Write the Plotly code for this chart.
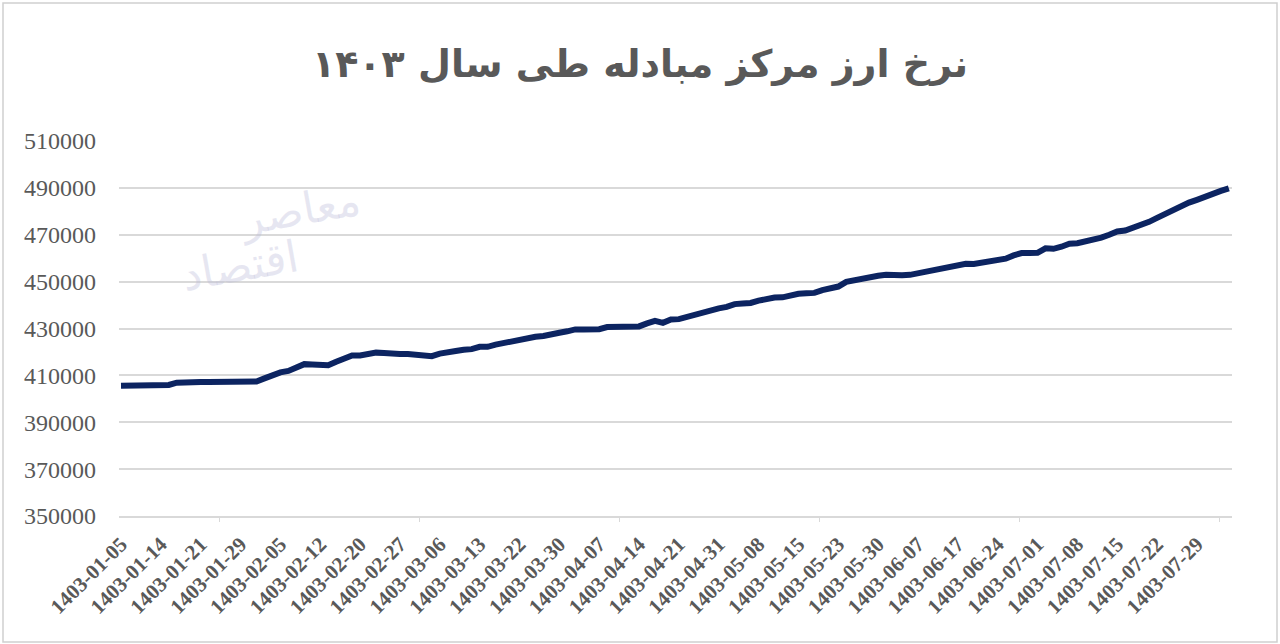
import plotly.graph_objects as go

# ---- data ----
tick_labels = [
    "1403-01-05", "1403-01-14", "1403-01-21", "1403-01-29", "1403-02-05", "1403-02-12",
    "1403-02-20", "1403-02-27", "1403-03-06", "1403-03-13", "1403-03-22", "1403-03-30",
    "1403-04-07", "1403-04-14", "1403-04-21", "1403-04-31", "1403-05-08", "1403-05-15",
    "1403-05-23", "1403-05-30", "1403-06-07", "1403-06-17", "1403-06-24", "1403-07-01",
    "1403-07-08", "1403-07-15", "1403-07-22", "1403-07-29",
]
label_step = 5  # one label every 5 trading days

rate = [
    405600, 405650, 405650, 405700, 405700, 405700, 405900, 406900, 407200, 407200,
    407200, 407200, 407200, 407200, 407200, 407200, 407200, 407400, 408700, 410200,
    411300, 411900, 413100, 414800, 414600, 414500, 414300, 415800, 417500, 418500,
    418500, 419400, 419700, 419500, 419100, 419100, 419100, 419000, 418300, 418200,
    419300, 419600, 420400, 420900, 421200, 422200, 422200, 423100, 423800, 425000,
    425200, 426000, 426500, 426800, 427800, 428200, 428800, 429600, 429600, 429700,
    429700, 430600, 430800, 430800, 430900, 430900, 432200, 433300, 432400, 433800,
    434000, 435000, 436200, 437200, 438100, 438600, 439200, 440400, 440700, 440900,
    441900, 442800, 443200, 443300, 444200, 444800, 445000, 445200, 446400, 447300,
    447900, 449900, 450600, 451400, 452200, 452500, 452900, 452600, 452700, 452900,
    453500, 454100, 454900, 455600, 456400, 457000, 457600, 457500, 458000, 458800,
    458900, 459800, 461200, 462200, 462200, 462300, 464200, 464000, 464900, 466200,
    466400, 467000, 467900, 468800, 470000, 471400, 471800, 472900, 474100, 475500,
    477200, 478900, 480500, 482300, 483700, 484900, 486300, 487100, 488700, 489800,
]
y_ticks = [350000, 370000, 390000, 410000, 430000, 450000, 470000, 490000, 510000]

title_text = "نرخ ارز مرکز مبادله طی سال ۱۴۰۳"
watermark_top = "معاصر"
watermark_bottom = "اقتصاد"

# ---- figure ----
x_idx = list(range(len(rate)))
tick_pos = [i * label_step for i in range(len(tick_labels))]

W, H = 1280, 644
ML, MR, MT, MB = 119, 48, 141, 128
PW, PH = W - ML - MR, H - MT - MB

grid_col = "#d9d9d9"
txt_col = "#595959"

fig = go.Figure()
fig.add_trace(go.Scatter(
    x=x_idx, y=rate, mode="lines",
    line=dict(color="#0c2461", width=6, shape="linear"),
    hoverinfo="x+y", showlegend=False,
))

fig.update_layout(
    width=W, height=H,
    margin=dict(l=ML, r=MR, t=MT, b=MB),
    paper_bgcolor="white", plot_bgcolor="white",
    title=dict(
        text=title_text, x=0.5, xanchor="center", y=1 - 64 / H, yanchor="middle",
        font=dict(family="DejaVu Sans", size=38, color=txt_col, weight="bold"),
    ),
    xaxis=dict(
        range=[-0.25, len(rate) - 0.6],
        tickmode="array", tickvals=tick_pos, ticktext=tick_labels,
        tickangle=-45, ticks="", ticklabelstandoff=6,
        tickfont=dict(family="Liberation Serif", size=21, color=txt_col, weight="bold"),
        showgrid=False, zeroline=False,
        showline=True, linecolor=grid_col, linewidth=1.5,
    ),
    xaxis2=dict(
        overlaying="x", matches="x", anchor="y",
        tickmode="linear", tick0=12.3, dtick=25.1,
        ticks="outside", ticklen=5, tickwidth=1.2, tickcolor=grid_col,
        showticklabels=False, showgrid=False, zeroline=False, showline=False,
    ),
    yaxis=dict(
        range=[350000, 510000], tickmode="array", tickvals=y_ticks,
        tickformat="d", ticks="", ticklabelstandoff=22,
        tickfont=dict(family="Liberation Serif", size=24, color=txt_col),
        showgrid=True, gridcolor=grid_col, gridwidth=1.5,
        zeroline=False, showline=False,
    ),
)

# invisible helper trace so the tick-mark overlay axis is drawn
fig.add_trace(go.Scatter(x=[x_idx[0]], y=[rate[0]], xaxis="x2", mode="markers",
                         marker=dict(opacity=0), hoverinfo="skip", showlegend=False))

# watermark logo text (faint)
wm_font = dict(family="DejaVu Sans", size=44, color="rgba(185,185,215,0.35)")
fig.add_annotation(
    text=watermark_top, xref="paper", yref="paper",
    x=(300 - ML) / PW, y=1 - (210 - MT) / PH, xanchor="center", yanchor="middle",
    showarrow=False, textangle=-10, font=wm_font,
)
fig.add_annotation(
    text=watermark_bottom, xref="paper", yref="paper",
    x=(240 - ML) / PW, y=1 - (265 - MT) / PH, xanchor="center", yanchor="middle",
    showarrow=False, textangle=-10, font=wm_font,
)

# chart border
fig.add_shape(
    type="rect", xref="paper", yref="paper",
    x0=(3 - ML) / PW, x1=(1277 - ML) / PW,
    y0=(H - MB - 642) / PH, y1=(H - MB - 3) / PH,
    line=dict(color="#d0d0d0", width=1.5), layer="below",
)

fig.write_html("out.html")
